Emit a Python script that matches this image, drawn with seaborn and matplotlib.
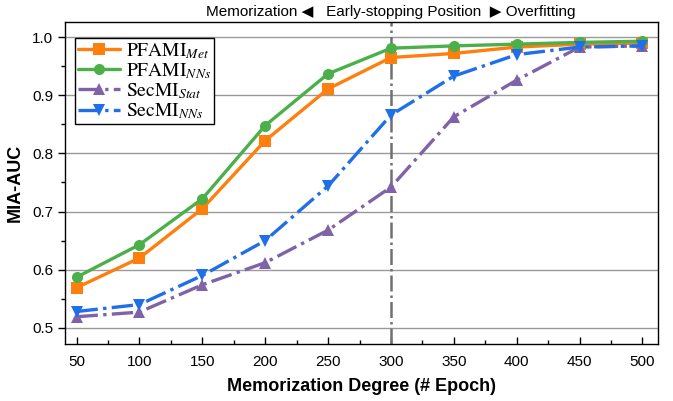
import matplotlib
matplotlib.use("Agg")
import matplotlib.pyplot as plt
import seaborn as sns
import pandas as pd
from matplotlib.ticker import MultipleLocator

epochs = [50, 100, 150, 200, 250, 300, 350, 400, 450, 500]
pfami_met = [0.569, 0.620, 0.705, 0.822, 0.911, 0.965, 0.972, 0.983, 0.988, 0.990]
pfami_nns = [0.587, 0.643, 0.722, 0.848, 0.937, 0.981, 0.985, 0.988, 0.991, 0.993]
secmi_stat = [0.519, 0.527, 0.574, 0.612, 0.668, 0.742, 0.863, 0.926, 0.983, 0.985]
secmi_nns = [0.528, 0.540, 0.590, 0.650, 0.744, 0.866, 0.933, 0.970, 0.983, 0.985]
labels = [r"PFAMI$_{Met}$", r"PFAMI$_{NNs}$", r"SecMI$_{Stat}$", r"SecMI$_{NNs}$"]
early_stop = 300

sns.set_style("white")
plt.rcParams["font.family"] = ["Liberation Sans", "DejaVu Sans"]
plt.rcParams["mathtext.fontset"] = "stix"
plt.rcParams["text.color"] = "black"
plt.rcParams["axes.labelcolor"] = "black"
plt.rcParams["xtick.color"] = "black"
plt.rcParams["ytick.color"] = "black"

fig, ax = plt.subplots(figsize=(6.73, 4.01), dpi=100)
fig.subplots_adjust(left=0.097, right=0.977, top=0.945, bottom=0.142)

series = [pfami_met, pfami_nns, secmi_stat, secmi_nns]
colors = ["#ff7f0e", "#4cb04a", "#8062a8", "#1f6fe8"]
markers = ["s", "o", "^", "v"]
styles = ["-", "-", "-.", "-."]

ax.yaxis.grid(True, color="#9a9a9a", linewidth=1.0, zorder=0)
ax.set_axisbelow(True)
ax.axvline(early_stop, color="#707070", linestyle="-.", linewidth=1.8, zorder=1)

for vals, lab, c, m, ls in zip(series, labels, colors, markers, styles):
    df = pd.DataFrame({"epoch": epochs, "auc": vals})
    sns.lineplot(data=df, x="epoch", y="auc", ax=ax, color=c, marker=m,
                 markersize=8, markeredgewidth=0, linewidth=2.4, linestyle=ls,
                 label=lab, zorder=3)

ax.set_xlim(41, 512)
ax.set_ylim(0.472, 1.026)
ax.set_xticks(epochs)
ax.xaxis.set_minor_locator(MultipleLocator(25))
ax.yaxis.set_major_locator(MultipleLocator(0.1))
ax.yaxis.set_minor_locator(MultipleLocator(0.05))
ax.tick_params(axis="x", which="both", direction="in", bottom=True, labelsize=11, pad=8)
ax.tick_params(axis="x", which="major", length=5, width=1)
ax.tick_params(axis="x", which="minor", length=3, width=1)
ax.tick_params(axis="y", which="both", direction="out", left=True, labelsize=11)
ax.tick_params(axis="y", which="major", length=5, width=1)
ax.tick_params(axis="y", which="minor", length=3, width=1)

for s in ax.spines.values():
    s.set_color("black")
    s.set_linewidth(1.0)

ax.set_xlabel("Memorization Degree (# Epoch)", fontsize=13, fontweight="bold", labelpad=6)
ax.set_ylabel("MIA-AUC", fontsize=13, fontweight="bold", labelpad=6)

ax.text(early_stop, 1.032, "Memorization ◀   Early-stopping Position  ▶ Overfitting",
        ha="center", va="bottom", fontsize=11,
        fontfamily=["Liberation Sans", "DejaVu Sans"])

leg = ax.legend(loc="upper left", bbox_to_anchor=(0.006, 0.968), frameon=True, fancybox=False,
                edgecolor="black", framealpha=1, handlelength=2.2,
                borderpad=0.15, labelspacing=0.02, handletextpad=0.3, borderaxespad=0.3,
                prop={"family": "STIXGeneral", "size": 14})
leg.get_frame().set_linewidth(1.0)

fig.savefig("out.png", dpi=100)
